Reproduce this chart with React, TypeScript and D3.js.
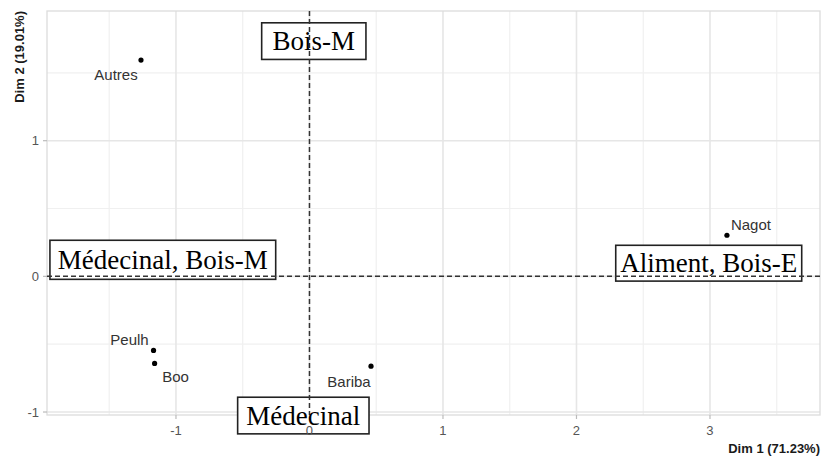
import React from "react";
import * as d3 from "d3";

// ---- data ----
const categories = ["Autres", "Peulh", "Boo", "Bariba", "Nagot"];
const dim1 = [-1.262, -1.168, -1.16, 0.461, 3.127];
const dim2 = [1.594, -0.546, -0.642, -0.662, 0.303];

const xTicks = [-1, 0, 1, 2, 3];
const yTicks = [-1, 0, 1];
const xMinor = [-1.5, -0.5, 0.5, 1.5, 2.5, 3.5];
const yMinor = [-0.5, 0.5, 1.5];

const xTitle = "Dim 1 (71.23%)";
const yTitle = "Dim 2 (19.01%)";

// annotation boxes (data units)
const boxTexts = ["Bois-M", "Médecinal, Bois-M", "Médecinal", "Aliment, Bois-E"];
const boxX0 = [-0.358, -1.944, -0.538, 2.294];
const boxX1 = [0.423, -0.253, 0.446, 3.687];
const boxY0 = [1.599, -0.022, -1.161, -0.035];
const boxY1 = [1.869, 0.266, -0.891, 0.229];

// label nudges (pixels) for point labels, repel-style
const labelDx = [-25, -24, 21, -22, 24];
const labelDy = [20, -5, 19, 21, -5];

const W = 821;
const H = 456;
const panel = { left: 47, right: 820, top: 11, bottom: 415 };

export default function App() {
  const x = d3.scaleLinear().domain([-1.966, 3.824]).range([panel.left, panel.right]);
  const y = d3.scaleLinear().domain([-1.022, 1.956]).range([panel.bottom, panel.top]);

  const sans = "Liberation Sans, Arial, sans-serif";
  const serif = "Liberation Serif, Times New Roman, serif";

  return (
    <svg
      width={W}
      height={H}
      style={{ position: "absolute", left: 0, top: 0, background: "#fff" }}
      fontFamily={sans}
    >
      <rect x={0} y={0} width={W} height={H} fill="#fff" />
      {/* minor grid */}
      {xMinor.map((v) => (
        <line key={"xm" + v} x1={x(v)} x2={x(v)} y1={panel.top} y2={panel.bottom} stroke="#f0f0f0" strokeWidth={1.2} />
      ))}
      {yMinor.map((v) => (
        <line key={"ym" + v} y1={y(v)} y2={y(v)} x1={panel.left} x2={panel.right} stroke="#f0f0f0" strokeWidth={1.2} />
      ))}
      {/* major grid */}
      {xTicks.map((v) => (
        <line key={"xM" + v} x1={x(v)} x2={x(v)} y1={panel.top} y2={panel.bottom} stroke="#e6e6e6" strokeWidth={1.6} />
      ))}
      {yTicks.map((v) => (
        <line key={"yM" + v} y1={y(v)} y2={y(v)} x1={panel.left} x2={panel.right} stroke="#e6e6e6" strokeWidth={1.6} />
      ))}
      {/* panel border */}
      <rect
        x={panel.left}
        y={panel.top}
        width={panel.right - panel.left}
        height={panel.bottom - panel.top}
        fill="none"
        stroke="#dcdcdc"
        strokeWidth={1.3}
      />
      {/* ticks */}
      {xTicks.map((v) => (
        <line key={"xt" + v} x1={x(v)} x2={x(v)} y1={panel.bottom} y2={panel.bottom + 4} stroke="#bbb" strokeWidth={1.2} />
      ))}
      {yTicks.map((v) => (
        <line key={"yt" + v} y1={y(v)} y2={y(v)} x1={panel.left - 4} x2={panel.left} stroke="#bbb" strokeWidth={1.2} />
      ))}
      {/* axis titles */}
      <text x={panel.right} y={453} textAnchor="end" fontSize={13} fontWeight="bold" fill="#1a1a1a">
        {xTitle}
      </text>
      <text
        transform={`translate(24, ${panel.top}) rotate(-90)`}
        textAnchor="end"
        fontSize={13}
        fontWeight="bold"
        fill="#1a1a1a"
      >
        {yTitle}
      </text>
      {/* annotation boxes (white fill) */}
      {boxTexts.map((t, i) => (
        <rect
          key={"b" + i}
          x={x(boxX0[i])}
          y={y(boxY1[i])}
          width={x(boxX1[i]) - x(boxX0[i])}
          height={y(boxY0[i]) - y(boxY1[i])}
          fill="#fff"
          stroke="#222"
          strokeWidth={1.6}
        />
      ))}
      {/* tick labels (drawn over boxes, as in the reference) */}
      {xTicks.map((v) => (
        <text key={"xl" + v} x={x(v)} y={435} textAnchor="middle" fontSize={13} fill="#555">
          {v}
        </text>
      ))}
      {yTicks.map((v) => (
        <text key={"yl" + v} x={39} y={y(v) + 4.5} textAnchor="end" fontSize={13} fill="#555">
          {v}
        </text>
      ))}
      {/* reference dashed lines */}
      <line x1={x(0)} x2={x(0)} y1={panel.top} y2={panel.bottom} stroke="#333" strokeWidth={1.5} strokeDasharray="5,3" />
      <line y1={y(0)} y2={y(0)} x1={panel.left} x2={panel.right} stroke="#333" strokeWidth={1.5} strokeDasharray="5,3" />
      {/* annotation texts */}
      {boxTexts.map((t, i) => {
        const cx = (x(boxX0[i]) + x(boxX1[i])) / 2;
        const cy = (y(boxY0[i]) + y(boxY1[i])) / 2;
        return (
          <text key={"bt" + i} x={cx} y={cy + 9} textAnchor="middle" fontFamily={serif} fontSize={27} fill="#000">
            {t}
          </text>
        );
      })}
      {/* points */}
      {categories.map((c, i) => (
        <circle key={"p" + c} cx={x(dim1[i])} cy={y(dim2[i])} r={2.6} fill="#000" />
      ))}
      {/* point labels */}
      {categories.map((c, i) => (
        <text
          key={"l" + c}
          x={x(dim1[i]) + labelDx[i]}
          y={y(dim2[i]) + labelDy[i]}
          textAnchor="middle"
          fontSize={15}
          fill="#333"
        >
          {c}
        </text>
      ))}
    </svg>
  );
}
